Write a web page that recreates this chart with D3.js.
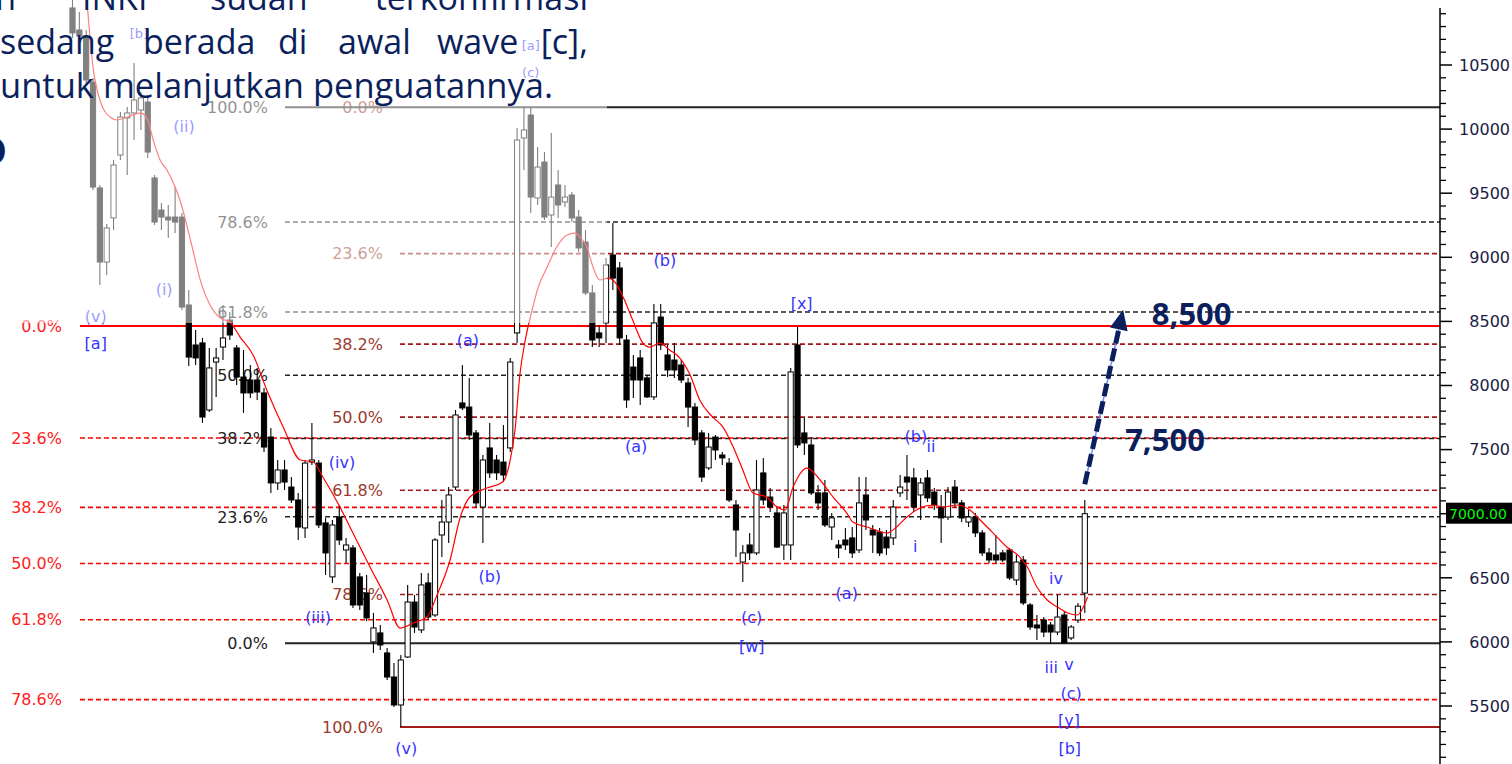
<!DOCTYPE html>
<html><head><meta charset="utf-8">
<script src="https://cdn.jsdelivr.net/npm/d3@7"></script>
<style>html,body{margin:0;padding:0;background:#fff;overflow:hidden}</style>
</head><body>
<svg id="c" width="1512" height="764"></svg>
<script>
// ---------- DATA ----------
const opens = [10945,10773,10726,10367,9541,8963,9307,9798,10087,10126,
10149,10211,9619,9369,9314,9314,9314,8628,8316,8332,
7809,8183,8300,8511,8293,8066,8043,8043,7942,7598,
7240,7341,7208,7107,6889,7403,7395,6928,6507,6974,
6717,6733,6507,6382,6000,6070,5914,5726,5508,5882,
6311,6093,6460,6210,6834,6935,7208,7864,7832,7630,
7052,7513,7419,7403,7513,8410,9931,10110,9463,9743,
9330,9564,9431,9486,9314,9119,8722,8410,8488,9018,
8917,8355,8144,8215,8059,7911,8534,8238,8199,8160,
8020,7832,7630,7357,7598,7458,7395,7068,6623,6756,
6694,7318,7130,7006,6756,6756,8316,7630,7536,7162,
7162,6896,6756,6795,6811,6717,7146,6873,6857,6818,
6811,7162,7286,7279,7146,7279,7169,7052,6974,7208,
7084,6935,6974,6850,6694,6678,6694,6717,6483,6639,
6288,6132,6171,6132,6077,6210,6031,6171,6381];
const highs = [11050,10913,10773,10399,9564,9260,9759,10133,10172,10516,
10289,10266,9642,9424,9408,9548,9346,8745,8433,8371,
8293,8293,8628,8573,8316,8277,8160,8137,7981,7669,
7419,7419,7286,7162,7419,7708,7419,6967,6951,7068,
6811,6756,6538,6522,6226,6132,5953,5836,5898,6444,
6366,6538,6538,6811,7107,7208,7809,8160,8059,7653,
7458,7708,7458,7692,8215,10009,10165,10165,9860,9821,
9970,9681,9564,9509,9369,9213,8784,8472,8995,9267,
8963,8394,8238,8277,8082,8636,8636,8316,8332,8199,
8059,7864,7653,7630,7614,7481,7435,7107,6756,6850,
7419,7435,7201,7045,7068,8137,8456,7747,7598,7224,
7263,7006,6795,6889,6896,7286,7286,6912,6889,6873,
7107,7302,7458,7357,7279,7341,7201,7146,7208,7263,
7107,7029,7006,6873,6733,6834,6717,6733,6678,6670,
6304,6210,6194,6155,6366,6233,6132,6304,7107];
const lows = [10711,10672,10344,9525,8784,8862,9213,9759,9642,9915,
9993,9775,9252,9213,9151,9190,8589,8152,8160,7708,
7793,7910,8199,8355,8004,7786,7903,7887,7481,7162,
7185,7185,7084,6795,6811,7380,6889,6522,6460,6756,
6616,6265,6249,6163,5914,5937,5703,5492,5336,5875,
6070,6070,6171,6194,6662,6772,7185,7809,7575,7045,
6772,7279,7263,7247,7481,8332,9681,9346,9408,9291,
9080,9307,9392,9275,9041,8706,8300,8300,8332,8745,
8316,7825,7903,7848,7903,7887,8277,8066,8059,8020,
7676,7536,7247,7341,7419,7380,7091,6662,6467,6639,
6678,7068,7013,6733,6639,6639,7513,7458,7146,7029,
6896,6795,6655,6717,6655,6694,6873,6694,6670,6678,
6756,7130,7107,7013,6951,7091,7029,6772,6951,7045,
6935,6896,6818,6670,6616,6616,6623,6483,6444,6288,
6093,6015,6038,5992,6054,5992,6015,6147,6226];
const closes = [10750,10726,10383,9548,8963,9229,9720,10094,10126,10227,
10243,9821,9275,9314,9291,9275,8612,8222,8215,7754,
8137,8215,8371,8394,8066,7942,7942,7949,7520,7240,
7341,7247,7107,6896,7395,7419,6912,6694,6912,6795,
6756,6288,6288,6187,6109,5976,5726,5508,5859,6311,
6116,6444,6194,6795,6935,7146,7770,7825,7614,7084,
7419,7318,7318,7302,8183,9915,9993,9470,9704,9314,
9470,9408,9470,9307,9073,8722,8355,8371,8940,8838,
8371,7887,8043,8043,7911,8488,8316,8121,8121,8043,
7832,7575,7286,7520,7497,7435,7107,6873,6694,6694,
7185,7107,7052,6740,7006,8106,7536,7552,7162,7084,
6912,6967,6733,6756,6694,7084,6951,6834,6694,6733,
7052,7208,7247,7052,7240,7123,7068,6967,7169,7084,
6967,6974,6850,6694,6639,6639,6639,6499,6623,6304,
6116,6109,6077,6077,6194,5992,6116,6279,7000];

// moving average (candle index, value)
const maIdx = [2.1,3.0,4.0,5.5,6.5,8.0,9.9,10.9,11.8,12.8,13.8,15.0,15.7,17.6,18.6,20.1,21.6,23.0,24.5,26.4,28.4,30.8,33.3,35.2,36.6,39.1,41.0,43.5,46.0,47.9,49.8,51.8,53.3,55.2,56.7,58.1,60.6,62.9,63.9,64.7,65.4,66.2,67.2,68.1,69.4,70.8,72.3,73.5,74.2,75.2,76.1,77.1,78.3,79.3,80.5,81.9,83.4,84.4,85.9,87.3,88.8,90.3,91.7,93.6,95.1,96.6,98.0,99.5,101.5,103.0,104.2,105.3,107.4,109.3,111.2,113.2,114.1,116.2,119.1,120.3,122.0,123.9,125.8,127.3,129.3,131.2,132.7,134.6,136.6,138.5,139.6,141.0,142.5,144.0,145.5,146.9,147.8,148.4];
const maVal = [11007,10484,10227,10094,10071,10094,10125,10086,9915,9759,9681,9548,9447,9057,8838,8628,8526,8495,8378,8238,7965,7676,7419,7403,7286,7052,6849,6584,6327,6108,6147,6194,6366,6639,6974,7130,7200,7247,7395,7653,8082,8355,8589,8768,8924,9080,9174,9189,9158,9080,8924,8823,8838,8807,8690,8511,8331,8300,8331,8277,8214,8082,7887,7754,7676,7520,7341,7161,7130,7052,7029,7200,7356,7263,7130,7005,6935,6896,6849,6888,6974,7044,7068,7052,7068,7029,6951,6849,6740,6662,6584,6428,6327,6272,6225,6210,6272,6350];

// axis
const axisMajor = [5500,6000,6500,7000,7500,8000,8500,9000,9500,10000,10500];
const axisMinor = d3.range(5100, 11000, 100);
const lastPrice = 7000;

// Fibonacci sets (labels + level values)
const fibRedLabels   = ["0.0%","23.6%","38.2%","50.0%","61.8%","78.6%"];
const fibRedLevels   = [8465,7590,7049,6611,6173,5550];
const fibBrownLabels = ["0.0%","23.6%","38.2%","50.0%","61.8%","78.6%","100.0%"];
const fibBrownLevels = [10170,9029,8323,7753,7183,6370,5336];
const fibBlackLabels = ["0.0%","23.6%","38.2%","50.0%","61.8%","78.6%","100.0%"];
const fibBlackLevels = [5990,6976,7587,8080,8573,9275,10170];

// wave labels: text, candle index, price
const waveText  = ["(v)","[a]","(i)","(ii)","(iii)","(iv)","(v)","(a)","(b)","(a)","(b)","(c)","[w]","[x]","(a)","(b)","ii","i","iv","iii","v","(c)","[y]","[b]"];
const waveIdx   = [3.4,3.4,13.4,16.3,35.9,39.4,48.8,57.8,61.0,82.4,86.6,99.3,99.3,106.6,113.2,123.3,125.5,123.2,143.8,143.1,145.7,146.0,145.7,145.8];
const wavePrice = [8542,8332,8753,10024,6194,7403,5173,8355,6514,7528,8979,6194,5968,8644,6382,7606,7528,6748,6499,5804,5828,5602,5391,5173];
const smallText  = ["[b]","[a]","(c)"];
const smallIdx   = [9.7,67.0,67.0];
const smallPrice = [10750,10656,10445];

// targets
const targetText  = ["8,500","7,500"];
const targetIdx   = [157.8,153.9];
const targetPrice = [8560,7575];
const arrowFrom = [148, 7230];
const arrowTo   = [153.6, 8590];

// slide text
const line1Words = ["n","INKI","sudah","terkonfirmasi"];
const line2Words = ["sedang","berada","di","awal","wave","[c],"];
const line3Text  = "untuk melanjutkan penguatannya.";

// ---------- DRAW ----------
const svg = d3.select('#c');
const x = d3.scaleLinear().domain([0,148]).range([72.5,1084.8]);
const y = d3.scaleLinear().domain([5500,10500]).range([706,65]);
const AX = 1440;
const FONT = "'DejaVu Sans', Verdana, sans-serif";

const fibG = svg.append('g');
function fibSet(levels, labels, x0, labelEnd, lineColor, textColor, solidSet, skipLine){
  levels.forEach((p,k)=>{
    if(!skipLine.includes(k)){
      fibG.append('line').attr('x1',x0).attr('x2',AX).attr('y1',y(p)).attr('y2',y(p))
        .attr('stroke',lineColor).attr('stroke-width',solidSet.includes(k)?2:1.6)
        .attr('stroke-dasharray',solidSet.includes(k)?null:'5,3');
    }
    fibG.append('text').attr('x',labelEnd).attr('y',y(p)).attr('dy','0.36em')
      .attr('text-anchor','end').attr('font-family',FONT).attr('font-size',16)
      .attr('fill',textColor).text(labels[k]);
  });
}
fibSet(fibRedLevels, fibRedLabels, 80, 62, '#ff0000', '#ff2020', [0], []);
fibSet(fibBrownLevels, fibBrownLabels, 400, 383, '#a31818', '#9a3a2c', [6], [0]);
fibSet(fibBlackLevels, fibBlackLabels, 285, 268, '#222', '#1e1e1e', [0,6], []);

// candles
const cg = svg.append('g');
const bw = 5.2;
d3.range(opens.length).forEach(i=>{
  const o=opens[i],h=highs[i],l=lows[i],c=closes[i];
  const cx = x(i);
  cg.append('line').attr('x1',cx).attr('x2',cx).attr('y1',y(h)).attr('y2',y(l))
    .attr('stroke','#000').attr('stroke-width',1.1);
  const top = y(Math.max(o,c)), bot = y(Math.min(o,c));
  cg.append('rect').attr('x',cx-bw/2).attr('y',top).attr('width',bw)
    .attr('height',Math.max(1,bot-top))
    .attr('fill',c>=o?'#fff':'#000').attr('stroke','#000').attr('stroke-width',1);
});

// moving average
svg.append('path').datum(maIdx.map((d,k)=>[d,maVal[k]]))
  .attr('d',d3.line().x(d=>x(d[0])).y(d=>y(d[1])).curve(d3.curveMonotoneX))
  .attr('fill','none').attr('stroke','#ff0000').attr('stroke-width',1.2);

// wave labels
const wg = svg.append('g');
waveText.forEach((t,k)=>{
  wg.append('text').attr('x',x(waveIdx[k])).attr('y',y(wavePrice[k])).attr('dy','0.35em')
    .attr('text-anchor','middle').attr('font-family',FONT).attr('font-size',16)
    .attr('fill','#3434ff').text(t);
});
smallText.forEach((t,k)=>{
  wg.append('text').attr('x',x(smallIdx[k])).attr('y',y(smallPrice[k])).attr('dy','0.35em')
    .attr('text-anchor','middle').attr('font-family',FONT).attr('font-size',13)
    .attr('fill','#3434ff').text(t);
});

// semi-transparent slide overlay
svg.append('rect').attr('x',0).attr('y',0).attr('width',607).attr('height',323)
  .attr('fill','#fff').attr('opacity',0.5);

// slide text
const navy = '#0b1f5c';
const tg = svg.append('g').attr('font-family',"'Open Sans','Noto Sans',sans-serif").attr('font-size',34).attr('fill',navy);
const l1x = [16, 82, 210, 588], l1a = ['end','start','start','end'];
line1Words.forEach((w,k)=>tg.append('text').attr('x',l1x[k]).attr('y',10).attr('text-anchor',l1a[k]).text(w));
const l2x = [0, 143, 278, 338, 437, 588], l2a=['start','start','start','start','start','end'];
line2Words.forEach((w,k)=>tg.append('text').attr('x',l2x[k]).attr('y',54).attr('text-anchor',l2a[k]).text(w));
tg.append('text').attr('x',0).attr('y',98).attr('textLength',553).attr('lengthAdjust','spacingAndGlyphs').text(line3Text);
svg.append('text').attr('x',7).attr('y',165).attr('text-anchor','end')
  .attr('font-family',"'Open Sans',sans-serif").attr('font-weight',700).attr('font-size',40).attr('fill',navy).text('D');

// arrow
const ax0 = x(arrowFrom[0]), ay0 = y(arrowFrom[1]), bx = x(arrowTo[0]), by = y(arrowTo[1]);
const ang = Math.atan2(by-ay0, bx-ax0), hl = 20, hw = 9;
const baseX = bx - hl*Math.cos(ang), baseY = by - hl*Math.sin(ang);
svg.append('line').attr('x1',ax0).attr('y1',ay0).attr('x2',baseX).attr('y2',baseY)
  .attr('stroke','#6f8dff').attr('stroke-width',1.5);
svg.append('line').attr('x1',ax0).attr('y1',ay0).attr('x2',baseX).attr('y2',baseY)
  .attr('stroke',navy).attr('stroke-width',5).attr('stroke-dasharray','13,5');
const px = -Math.sin(ang), py = Math.cos(ang);
svg.append('polygon').attr('points',[[bx,by],[baseX+px*hw,baseY+py*hw],[baseX-px*hw,baseY-py*hw]].map(p=>p.join(',')).join(' '))
  .attr('fill',navy);

// target labels
targetText.forEach((t,k)=>{
  svg.append('text').attr('x',x(targetIdx[k])).attr('y',y(targetPrice[k])).attr('dy','0.36em')
    .attr('font-family',"'Open Sans','Noto Sans',sans-serif").attr('font-weight',700)
    .attr('font-size',31).attr('fill',navy).text(t);
});

// right axis
const ag = svg.append('g');
ag.append('line').attr('x1',AX).attr('x2',AX).attr('y1',8).attr('y2',764).attr('stroke','#000').attr('stroke-width',1.5);
axisMinor.forEach(v=>{
  if(axisMajor.includes(v)) return;
  ag.append('line').attr('x1',AX).attr('x2',AX+6).attr('y1',y(v)).attr('y2',y(v)).attr('stroke','#000').attr('stroke-width',1.3);
});
axisMajor.forEach(v=>{
  ag.append('line').attr('x1',AX).attr('x2',AX+12).attr('y1',y(v)).attr('y2',y(v)).attr('stroke','#000').attr('stroke-width',1.5);
  if(v===lastPrice) return;
  ag.append('text').attr('x',1510).attr('y',y(v)).attr('dy','0.36em').attr('text-anchor','end')
    .attr('font-family',FONT).attr('font-size',16).attr('fill','#1c1c44').text(v);
});
ag.append('rect').attr('x',1446).attr('y',y(lastPrice)-11).attr('width',66).attr('height',21).attr('fill','#000');
ag.append('text').attr('x',1449).attr('y',y(lastPrice)).attr('dy','0.36em')
  .attr('font-family',FONT).attr('font-size',14).attr('fill','#00ff00').text(lastPrice.toFixed(2));
</script>
</body></html>
